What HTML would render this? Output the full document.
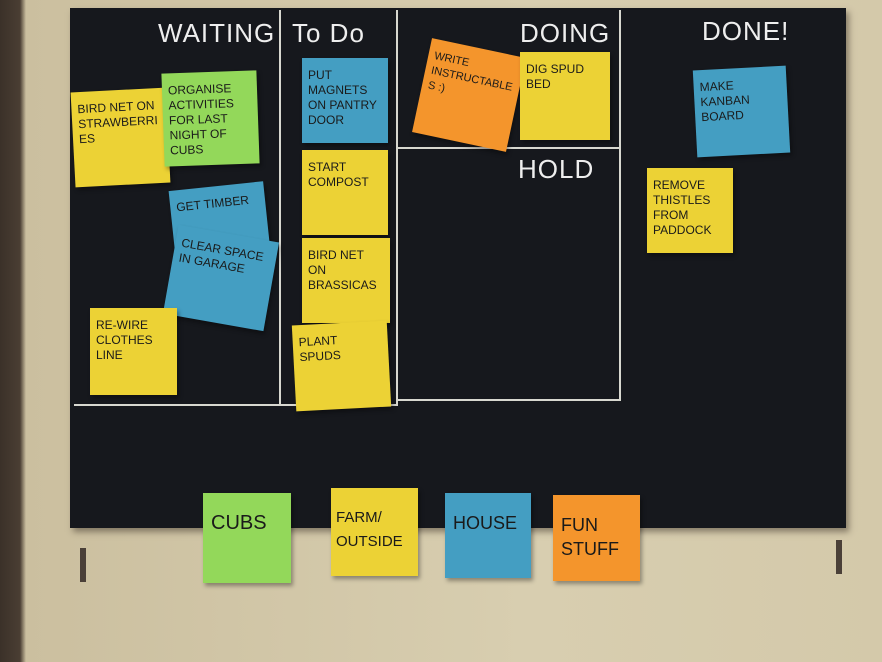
<!DOCTYPE html>
<html><head><meta charset="utf-8"><style>
html,body{margin:0;padding:0}
body{width:882px;height:662px;overflow:hidden;position:relative;background:#d6ccb0;font-family:"Liberation Sans",sans-serif}
.wall{position:absolute;left:0;top:0;width:882px;height:662px;background:linear-gradient(90deg,#3b3129 0,#4a3e33 20px,#cbbf9f 26px,#d8ceb0 60%,#d4c9aa 100%)}
.board{position:absolute;left:70px;top:8px;width:776px;height:520px;background:#16181d;box-shadow:3px 4px 6px rgba(60,50,40,.5)}
.l{position:absolute;background:#d8d8d0}
.h{position:absolute;color:#eee;font-size:26px;letter-spacing:1px;font-family:"Liberation Sans",sans-serif}
.n{position:absolute;box-sizing:border-box;padding:10px 6px;font-size:12px;line-height:15px;color:#1a1a1a;text-transform:uppercase;font-family:"Liberation Sans",sans-serif;box-shadow:2px 3px 4px rgba(0,0,0,.35);overflow:hidden;overflow-wrap:break-word}
.y{background:#ecd235}.b{background:#449ec2}.g{background:#93d85a}.o{background:#f4952c}
.big{font-size:20px;line-height:24px;padding:18px 8px}
</style></head><body>
<div class="wall"></div>
<div class="board"></div>
<div class="l" style="left:279px;top:10px;width:2px;height:395px"></div>
<div class="l" style="left:396px;top:10px;width:2px;height:395px"></div>
<div class="l" style="left:619px;top:10px;width:2px;height:391px"></div>
<div class="l" style="left:74px;top:404px;width:324px;height:2px"></div>
<div class="l" style="left:397px;top:147px;width:223px;height:2px"></div>
<div class="l" style="left:397px;top:399px;width:223px;height:2px"></div>
<div class="h" style="left:158px;top:18px">WAITING</div>
<div class="h" style="left:292px;top:18px">To Do</div>
<div class="h" style="left:520px;top:18px">DOING</div>
<div class="h" style="left:702px;top:16px">DONE!</div>
<div class="h" style="left:518px;top:154px">HOLD</div>

<div class="n y" style="left:73px;top:90px;width:95px;height:95px;transform:rotate(-3deg)">Bird net on strawberries</div>
<div class="n g" style="left:163px;top:72px;width:95px;height:93px;transform:rotate(-2deg)">Organise activities for last night of cubs</div>
<div class="n b" style="left:172px;top:186px;width:95px;height:70px;transform:rotate(-6deg)">Get timber</div>
<div class="n b" style="left:170px;top:233px;width:102px;height:90px;transform:rotate(10deg)">Clear space in garage</div>
<div class="n y" style="left:90px;top:308px;width:87px;height:87px">Re-wire clothes line</div>
<div class="n b" style="left:302px;top:58px;width:86px;height:85px">Put magnets on pantry door</div>
<div class="n y" style="left:302px;top:150px;width:86px;height:85px">Start compost</div>
<div class="n y" style="left:302px;top:238px;width:88px;height:85px">Bird net on brassicas</div>
<div class="n y" style="left:294px;top:323px;width:95px;height:86px;transform:rotate(-3deg)">Plant spuds</div>
<div class="n o" style="left:421px;top:47px;width:96px;height:96px;transform:rotate(12deg);font-size:11px">Write instructables :)</div>
<div class="n y" style="left:520px;top:52px;width:90px;height:88px">Dig spud bed</div>
<div class="n b" style="left:695px;top:68px;width:93px;height:87px;transform:rotate(-3deg)">Make kanban board</div>
<div class="n y" style="left:647px;top:168px;width:86px;height:85px">Remove thistles from paddock</div>

<div class="n g big" style="left:203px;top:493px;width:88px;height:90px">Cubs</div>
<div class="n y big" style="left:331px;top:488px;width:87px;height:88px;font-size:15px;padding:18px 5px">Farm/ outside</div>
<div class="n b big" style="left:445px;top:493px;width:86px;height:85px;font-size:18px">House</div>
<div class="n o big" style="left:553px;top:495px;width:87px;height:86px;font-size:18px">Fun stuff</div>

<div style="position:absolute;left:80px;top:548px;width:6px;height:34px;background:#4a4038"></div>
<div style="position:absolute;left:836px;top:540px;width:6px;height:34px;background:#4a4038"></div>
</body></html>
